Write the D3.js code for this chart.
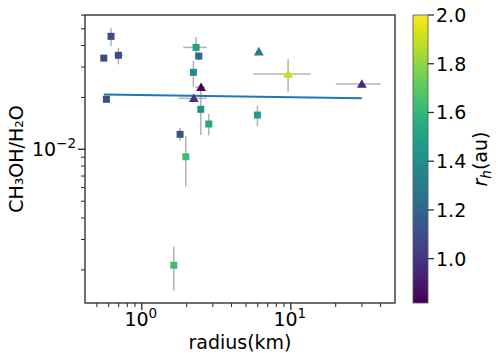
<!DOCTYPE html>
<html><head><meta charset="utf-8">
<script src="https://cdn.jsdelivr.net/npm/d3@7"></script>
<style>body{margin:0;background:#fff}svg{display:block}text{font-family:"DejaVu Sans",sans-serif;fill:#000}</style>
</head><body><svg id="c" width="498" height="362"></svg>
<script>
// ---- data ----
const radius    = [0.622, 0.556, 0.697, 0.579, 2.314, 2.413, 2.22, 2.50, 2.234, 2.489, 2.817, 1.807, 1.974, 1.640, 6.10, 9.59, 29.96, 5.97];
const ratio     = [0.0452, 0.0338, 0.0351, 0.0195, 0.0390, 0.0347, 0.02795, 0.0229, 0.01975, 0.01706, 0.01402, 0.01222, 0.00906, 0.002126, 0.0368, 0.02732, 0.0239, 0.0158];
const ratioLow  = [0.0397, null, 0.0311, null, 0.0341, 0.0329, 0.0229, null, null, 0.0121, 0.01202, 0.01122, 0.00607, 0.001515, null, 0.02158, null, 0.01364];
const ratioHigh = [0.0503, null, 0.0388, null, 0.0446, 0.0366, 0.0326, null, null, 0.02297, 0.01602, 0.01329, 0.01199, 0.002725, null, 0.03324, null, 0.01795];
const radiusLow = [null, null, 0.655, null, 1.90, null, null, 2.28, 1.76, null, null, null, null, null, null, 5.61, 20.04, null];
const radiusHigh= [null, null, 0.746, null, 2.73, null, null, 2.66, 2.73, null, null, null, null, null, null, 13.6, 39.94, null];
const rh        = [1.08, 1.08, 1.08, 1.10, 1.50, 1.21, 1.38, 0.82, 1.00, 1.41, 1.52, 1.11, 1.63, 1.63, 1.30, 1.90, 0.96, 1.46];
const shape     = ["s","s","s","s","s","s","s","^","^","s","s","s","s","s","^","^","^","s"];
const fitRadius = [0.556, 29.96];
const fitRatio  = [0.0208, 0.0198];
const xTicks = [1, 10], xTickExp = ["0", "1"];
const yTicks = [0.01], yTickExp = ["\u22122"];
const cbTicks = [1.0, 1.2, 1.4, 1.6, 1.8, 2.0];
const rhMin = 0.818, rhMax = 2.0;

const svg = d3.select("#c");
const L = 85, R = 395, T = 15, B = 303;
const x = d3.scaleLog().domain([0.416, 50]).range([L, R]);
const y = d3.scaleLog().domain([0.001285, 0.0601]).range([B, T]);
const color = d3.scaleSequential(d3.interpolateViridis).domain([rhMin, rhMax]);
const FS = 19;

// minor ticks
const xMinor = [];
[0.1, 1, 10].forEach(d => { for (let k = 2; k <= 9; k++) { const v = d * k; if (v > 0.416 && v < 50) xMinor.push(v); } });
const yMinor = [];
[0.001, 0.01].forEach(d => { for (let k = 2; k <= 9; k++) { const v = d * k; if (v > 0.001285 && v < 0.0601) yMinor.push(v); } });

const ax = svg.append("g");
ax.selectAll(".xm").data(xMinor).enter().append("line")
  .attr("x1", d => x(d)).attr("x2", d => x(d)).attr("y1", B).attr("y2", B + 4)
  .attr("stroke", "#333").attr("stroke-width", 1.1);
ax.selectAll(".xM").data(xTicks).enter().append("line")
  .attr("x1", d => x(d)).attr("x2", d => x(d)).attr("y1", B).attr("y2", B + 7)
  .attr("stroke", "#333").attr("stroke-width", 1.4);
ax.selectAll(".ym").data(yMinor).enter().append("line")
  .attr("y1", d => y(d)).attr("y2", d => y(d)).attr("x1", L).attr("x2", L - 4)
  .attr("stroke", "#333").attr("stroke-width", 1.1);
ax.selectAll(".yM").data(yTicks).enter().append("line")
  .attr("y1", d => y(d)).attr("y2", d => y(d)).attr("x1", L).attr("x2", L - 7)
  .attr("stroke", "#333").attr("stroke-width", 1.4);

// x tick labels
xTicks.forEach((d, i) => {
  const t = ax.append("text").attr("x", x(d) - 1).attr("y", 326).attr("text-anchor", "middle").attr("font-size", FS);
  t.append("tspan").text("10");
  t.append("tspan").attr("dy", -8).attr("font-size", 13.5).text(xTickExp[i]);
});
yTicks.forEach((d, i) => {
  const t = ax.append("text").attr("x", 76).attr("y", y(d) + 7).attr("text-anchor", "end").attr("font-size", FS);
  t.append("tspan").text("10");
  t.append("tspan").attr("dy", -8).attr("font-size", 13.5).text(yTickExp[i]);
});

// axis labels
svg.append("text").attr("x", (L + R) / 2).attr("y", 349).attr("text-anchor", "middle")
  .attr("font-size", FS).text("radius(km)");
svg.append("text").attr("transform", `translate(23,${(T + B) / 2}) rotate(-90)`).attr("text-anchor", "middle")
  .attr("font-size", FS).text("CH\u2083OH/H\u2082O");

// error bars
const idx = d3.range(radius.length);
const eb = svg.append("g").attr("stroke", "#b5b5b5").attr("stroke-width", 1.6);
idx.filter(i => ratioLow[i] != null).forEach(i => {
  eb.append("line").attr("x1", x(radius[i])).attr("x2", x(radius[i]))
    .attr("y1", y(ratioLow[i])).attr("y2", y(ratioHigh[i]));
});
idx.filter(i => radiusLow[i] != null).forEach(i => {
  eb.append("line").attr("y1", y(ratio[i])).attr("y2", y(ratio[i]))
    .attr("x1", x(radiusLow[i])).attr("x2", x(radiusHigh[i]));
});

// fit line
svg.append("line").attr("x1", x(fitRadius[0])).attr("y1", y(fitRatio[0]))
  .attr("x2", x(fitRadius[1])).attr("y2", y(fitRatio[1]))
  .attr("stroke", "#1f77b4").attr("stroke-width", 2);

// markers
const sq = d3.symbol().type(d3.symbolSquare).size(49);
const tri = d3.symbol().type(d3.symbolTriangle).size(42);
svg.append("g").selectAll("path").data(idx).enter().append("path")
  .attr("d", i => shape[i] === "s" ? sq() : tri())
  .attr("transform", i => `translate(${x(radius[i])},${y(ratio[i]) + (shape[i] === "^" ? 0.8 : 0)})`)
  .attr("fill", i => color(rh[i]));

// spines
svg.append("rect").attr("x", L).attr("y", T).attr("width", R - L).attr("height", B - T)
  .attr("fill", "none").attr("stroke", "#333").attr("stroke-width", 1.4);

// colorbar
const cbL = 413, cbW = 15;
const cy = d3.scaleLinear().domain([rhMin, rhMax]).range([B, T]);
const grad = svg.append("defs").append("linearGradient").attr("id", "vir")
  .attr("x1", 0).attr("y1", 1).attr("x2", 0).attr("y2", 0);
d3.range(0, 1.0001, 0.05).forEach(t => grad.append("stop").attr("offset", t).attr("stop-color", d3.interpolateViridis(t)));
svg.append("rect").attr("x", cbL).attr("y", T).attr("width", cbW).attr("height", B - T).attr("fill", "url(#vir)")
  .attr("stroke", "#555").attr("stroke-width", 0.8);
const cb = svg.append("g");
cb.selectAll("line").data(cbTicks).enter().append("line")
  .attr("x1", cbL + cbW).attr("x2", cbL + cbW + 6).attr("y1", d => cy(d)).attr("y2", d => cy(d))
  .attr("stroke", "#333").attr("stroke-width", 1.3);
cb.selectAll("text").data(cbTicks).enter().append("text")
  .attr("x", cbL + cbW + 8).attr("y", d => cy(d) + 7).attr("font-size", FS).text(d => d.toFixed(1));
const lab = svg.append("text").attr("transform", `translate(487,${(T + B) / 2}) rotate(-90)`)
  .attr("text-anchor", "middle").attr("font-size", FS);
lab.append("tspan").attr("font-style", "italic").text("r");
lab.append("tspan").attr("font-style", "italic").attr("font-size", 13.5).attr("dy", 4).text("h");
lab.append("tspan").attr("dy", -4).text("(au)");
</script></body></html>
